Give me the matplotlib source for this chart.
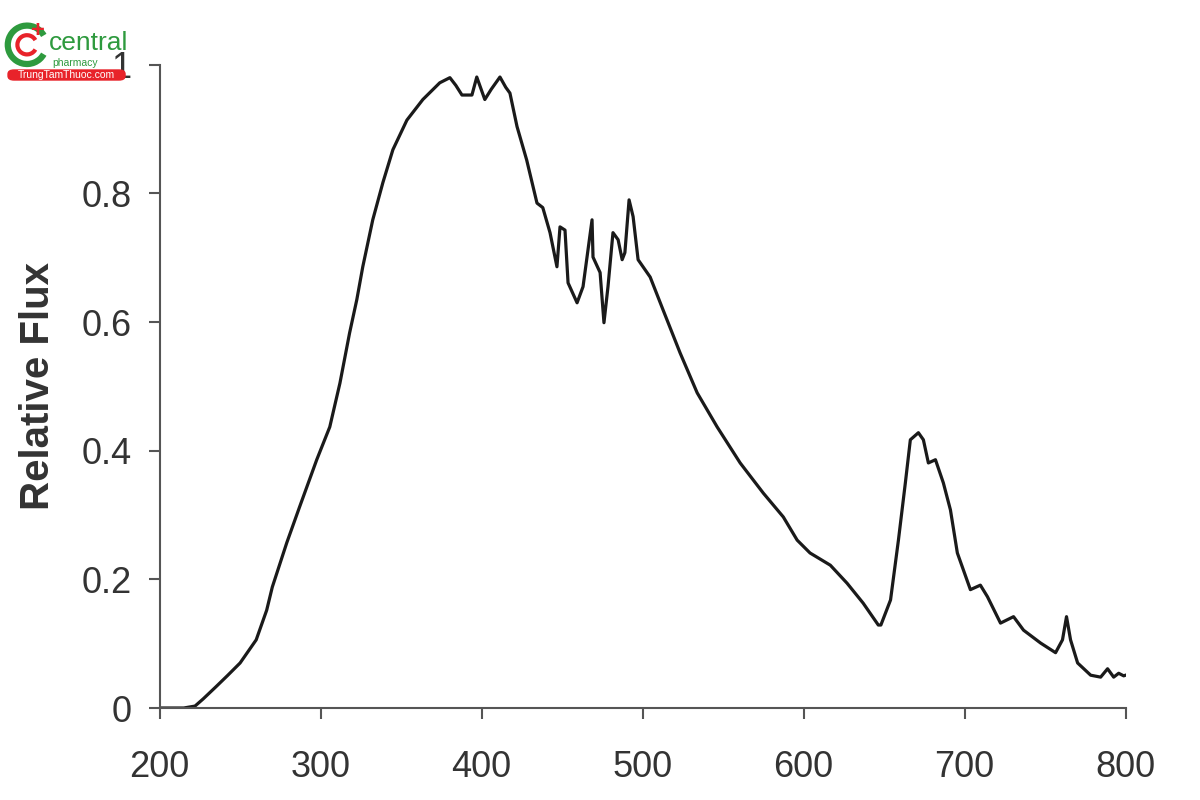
import matplotlib.pyplot as plt
from matplotlib.patches import Arc, FancyBboxPatch

plt.rcParams["font.family"] = ["Liberation Sans", "DejaVu Sans"]

# wavelength (nm) and relative flux
wavelength = [200, 215, 222, 227, 235, 242, 250, 260, 266.5, 270, 279, 287,
              297.6, 305.7, 312, 318, 322.5, 326.2, 332.4, 338.7, 344.9, 353.6,
              363.5, 374, 380.3, 384, 387.8, 394, 397, 402, 406, 411.4, 415,
              417.6, 422, 428, 434.4, 438, 442.5, 446.8, 448.7, 451.8, 453.7,
              459.3, 463, 468.6, 469.2, 473.6, 476, 478.5, 481.6, 484.8, 487.3,
              489, 491.6, 494.1, 497.2, 504.7, 512.7, 523.3, 533.9, 546.3,
              560.6, 575, 587.4, 596, 604, 616.6, 627, 637, 646.4, 648, 654,
              658.9, 663.2, 666.3, 671.3, 674.4, 677.5, 681.9, 686.8, 691.2,
              695.5, 703.6, 709.8, 714.2, 722.3, 730.4, 736.6, 747.2, 756.5,
              760.8, 763.3, 765.8, 770.2, 778.3, 784.5, 788.8, 792.6, 795.7,
              798.8, 800]
flux = [0.0, 0.0, 0.003, 0.014, 0.033, 0.05, 0.07, 0.106, 0.152, 0.188, 0.257,
        0.313, 0.386, 0.437, 0.505, 0.583, 0.635, 0.686, 0.759, 0.817, 0.868,
        0.914, 0.946, 0.972, 0.98, 0.968, 0.953, 0.953, 0.981, 0.946, 0.962,
        0.981, 0.965, 0.956, 0.904, 0.852, 0.785, 0.778, 0.739, 0.686, 0.748,
        0.743, 0.661, 0.630, 0.655, 0.759, 0.701, 0.677, 0.599, 0.655, 0.739,
        0.728, 0.697, 0.708, 0.79, 0.764, 0.697, 0.670, 0.619, 0.552, 0.49,
        0.437, 0.381, 0.334, 0.297, 0.261, 0.241, 0.222, 0.194, 0.163, 0.129,
        0.129, 0.168, 0.261, 0.35, 0.417, 0.428, 0.417, 0.381, 0.386, 0.35,
        0.308, 0.241, 0.184, 0.191, 0.173, 0.132, 0.142, 0.121, 0.101, 0.086,
        0.106, 0.142, 0.106, 0.07, 0.051, 0.048, 0.061, 0.048, 0.054, 0.05,
        0.051]

xticks = [200, 300, 400, 500, 600, 700, 800]
yticks = [0, 0.2, 0.4, 0.6, 0.8, 1]
ytick_labels = ["0", "0.2", "0.4", "0.6", "0.8", "1"]

fig = plt.figure(figsize=(12, 8), dpi=100)
ax = fig.add_axes([0.133, 0.115, 0.805, 0.804])
ax.plot(wavelength, flux, color="#1a1a1a", linewidth=2.3)

ax.set_xlim(200, 800)
ax.set_ylim(0, 1)
ax.set_xticks(xticks)
ax.set_yticks(yticks)
ax.set_yticklabels(ytick_labels)
for s in ["top", "right"]:
    ax.spines[s].set_visible(False)
for s in ["left", "bottom"]:
    ax.spines[s].set_color("#555555")
    ax.spines[s].set_linewidth(1.5)
ax.tick_params(colors="#555555", labelcolor="#333333", labelsize=26,
               width=1.5, length=8)
ax.tick_params(axis="x", pad=22)
ax.tick_params(axis="y", pad=12)
ax.set_ylabel("Relative Flux", fontsize=29, fontweight="bold", color="#333333",
              labelpad=18)

# watermark logo
fig.patches.append(Arc((0.0225, 0.944), 0.032, 0.048, theta1=40, theta2=320,
                       transform=fig.transFigure, color="#2e9a3e", lw=4.5))
fig.patches.append(Arc((0.0225, 0.944), 0.016, 0.024, theta1=40, theta2=320,
                       transform=fig.transFigure, color="#e8232a", lw=3))
fig.text(0.032, 0.962, "+", color="#e8232a", fontsize=17, fontweight="bold",
         ha="center", va="center")
fig.text(0.041, 0.938, "central", color="#2e9a3e", fontsize=19, va="baseline")
fig.text(0.0435, 0.917, "pharmacy", color="#2e9a3e", fontsize=7.5,
         va="baseline")
fig.patches.append(FancyBboxPatch((0.0067, 0.9), 0.0975, 0.0125,
                                  boxstyle="round,pad=0,rounding_size=0.005",
                                  transform=fig.transFigure, color="#e8232a"))
fig.text(0.055, 0.9063, "TrungTamThuoc.com", color="white", fontsize=7.5,
         ha="center", va="center")

fig.savefig("out.png", dpi=100)
